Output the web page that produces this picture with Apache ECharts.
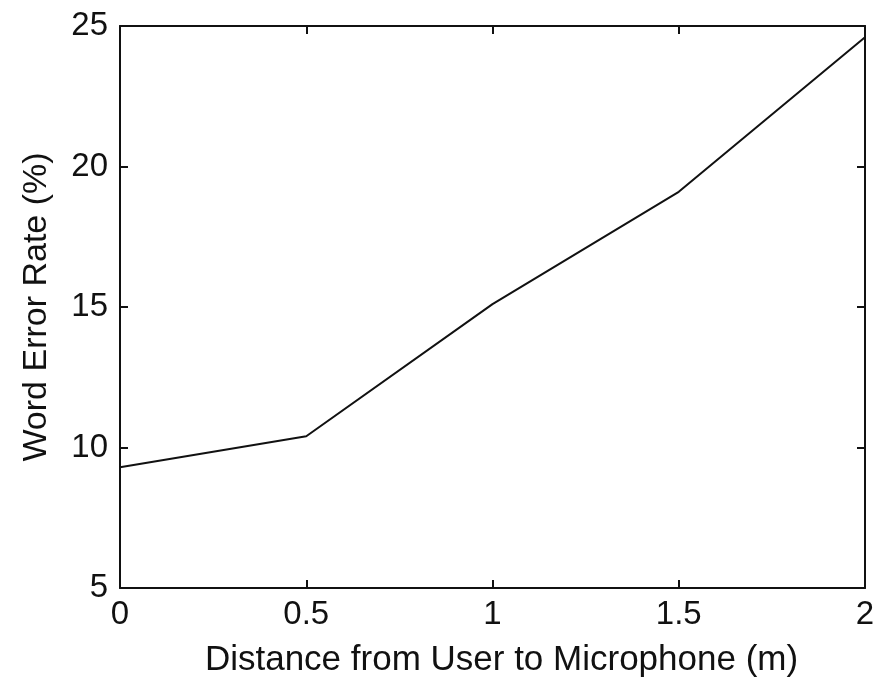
<!DOCTYPE html>
<html>
<head>
<meta charset="utf-8">
<script src="https://cdn.jsdelivr.net/npm/echarts@6/dist/echarts.min.js"></script>
<style>
  html, body { margin: 0; padding: 0; background: #fff; }
  #chart { width: 884px; height: 679px; }
</style>
</head>
<body>
<div id="chart"></div>
<script>
// Word error rate against user-to-microphone distance
const distances = [0, 0.5, 1, 1.5, 2];
const errorRates = [9.3, 10.4, 15.1, 19.1, 24.6];
const xTicks = [0, 0.5, 1, 1.5, 2];
const yTicks = [5, 10, 15, 20, 25];
const xTitle = 'Distance from User to Microphone (m)';
const yTitle = 'Word Error Rate (%)';

const font = '"Liberation Sans", Arial, Helvetica, sans-serif';
const ink = '#111';

const chart = echarts.init(document.getElementById('chart'), null, { renderer: 'canvas' });

const frameLine = { show: true, onZero: false, lineStyle: { color: ink, width: 2 } };
const tickStyle = { show: true, inside: true, length: 8, lineStyle: { color: ink, width: 2 } };

function baseX(extra) {
  return Object.assign({
    type: 'value',
    min: xTicks[0],
    max: xTicks[xTicks.length - 1],
    interval: xTicks[1] - xTicks[0],
    axisLine: frameLine,
    axisTick: tickStyle,
    splitLine: { show: false }
  }, extra);
}
function baseY(extra) {
  return Object.assign({
    type: 'value',
    min: yTicks[0],
    max: yTicks[yTicks.length - 1],
    interval: yTicks[1] - yTicks[0],
    axisLine: frameLine,
    axisTick: tickStyle,
    splitLine: { show: false }
  }, extra);
}

chart.setOption({
  backgroundColor: '#fff',
  animation: false,
  grid: {
    left: 120, right: 19, top: 26, bottom: 91,
    containLabel: false,
    outerBoundsMode: 'none'
  },
  xAxis: [
    baseX({
      position: 'bottom',
      name: xTitle,
      nameLocation: 'middle',
      nameGap: 55,
      nameTextStyle: { fontFamily: font, fontSize: 35, color: ink, padding: [0, 0, 0, 18] },
      axisLabel: {
        show: true, margin: 10, fontFamily: font, fontSize: 33, color: ink,
        formatter: v => String(v)
      }
    }),
    baseX({ position: 'top', axisLabel: { show: false } })
  ],
  yAxis: [
    baseY({
      position: 'left',
      name: yTitle,
      nameLocation: 'middle',
      nameGap: 66,
      nameRotate: 90,
      nameTextStyle: { fontFamily: font, fontSize: 34, color: ink },
      axisLabel: {
        show: true, margin: 12, fontFamily: font, fontSize: 33, color: ink,
        formatter: v => String(v)
      }
    }),
    baseY({ position: 'right', axisLabel: { show: false } })
  ],
  series: [{
    type: 'line',
    xAxisIndex: 0,
    yAxisIndex: 0,
    data: distances.map((d, i) => [d, errorRates[i]]),
    showSymbol: false,
    symbol: 'none',
    lineStyle: { color: ink, width: 2 },
    silent: true
  }]
});
</script>
</body>
</html>
